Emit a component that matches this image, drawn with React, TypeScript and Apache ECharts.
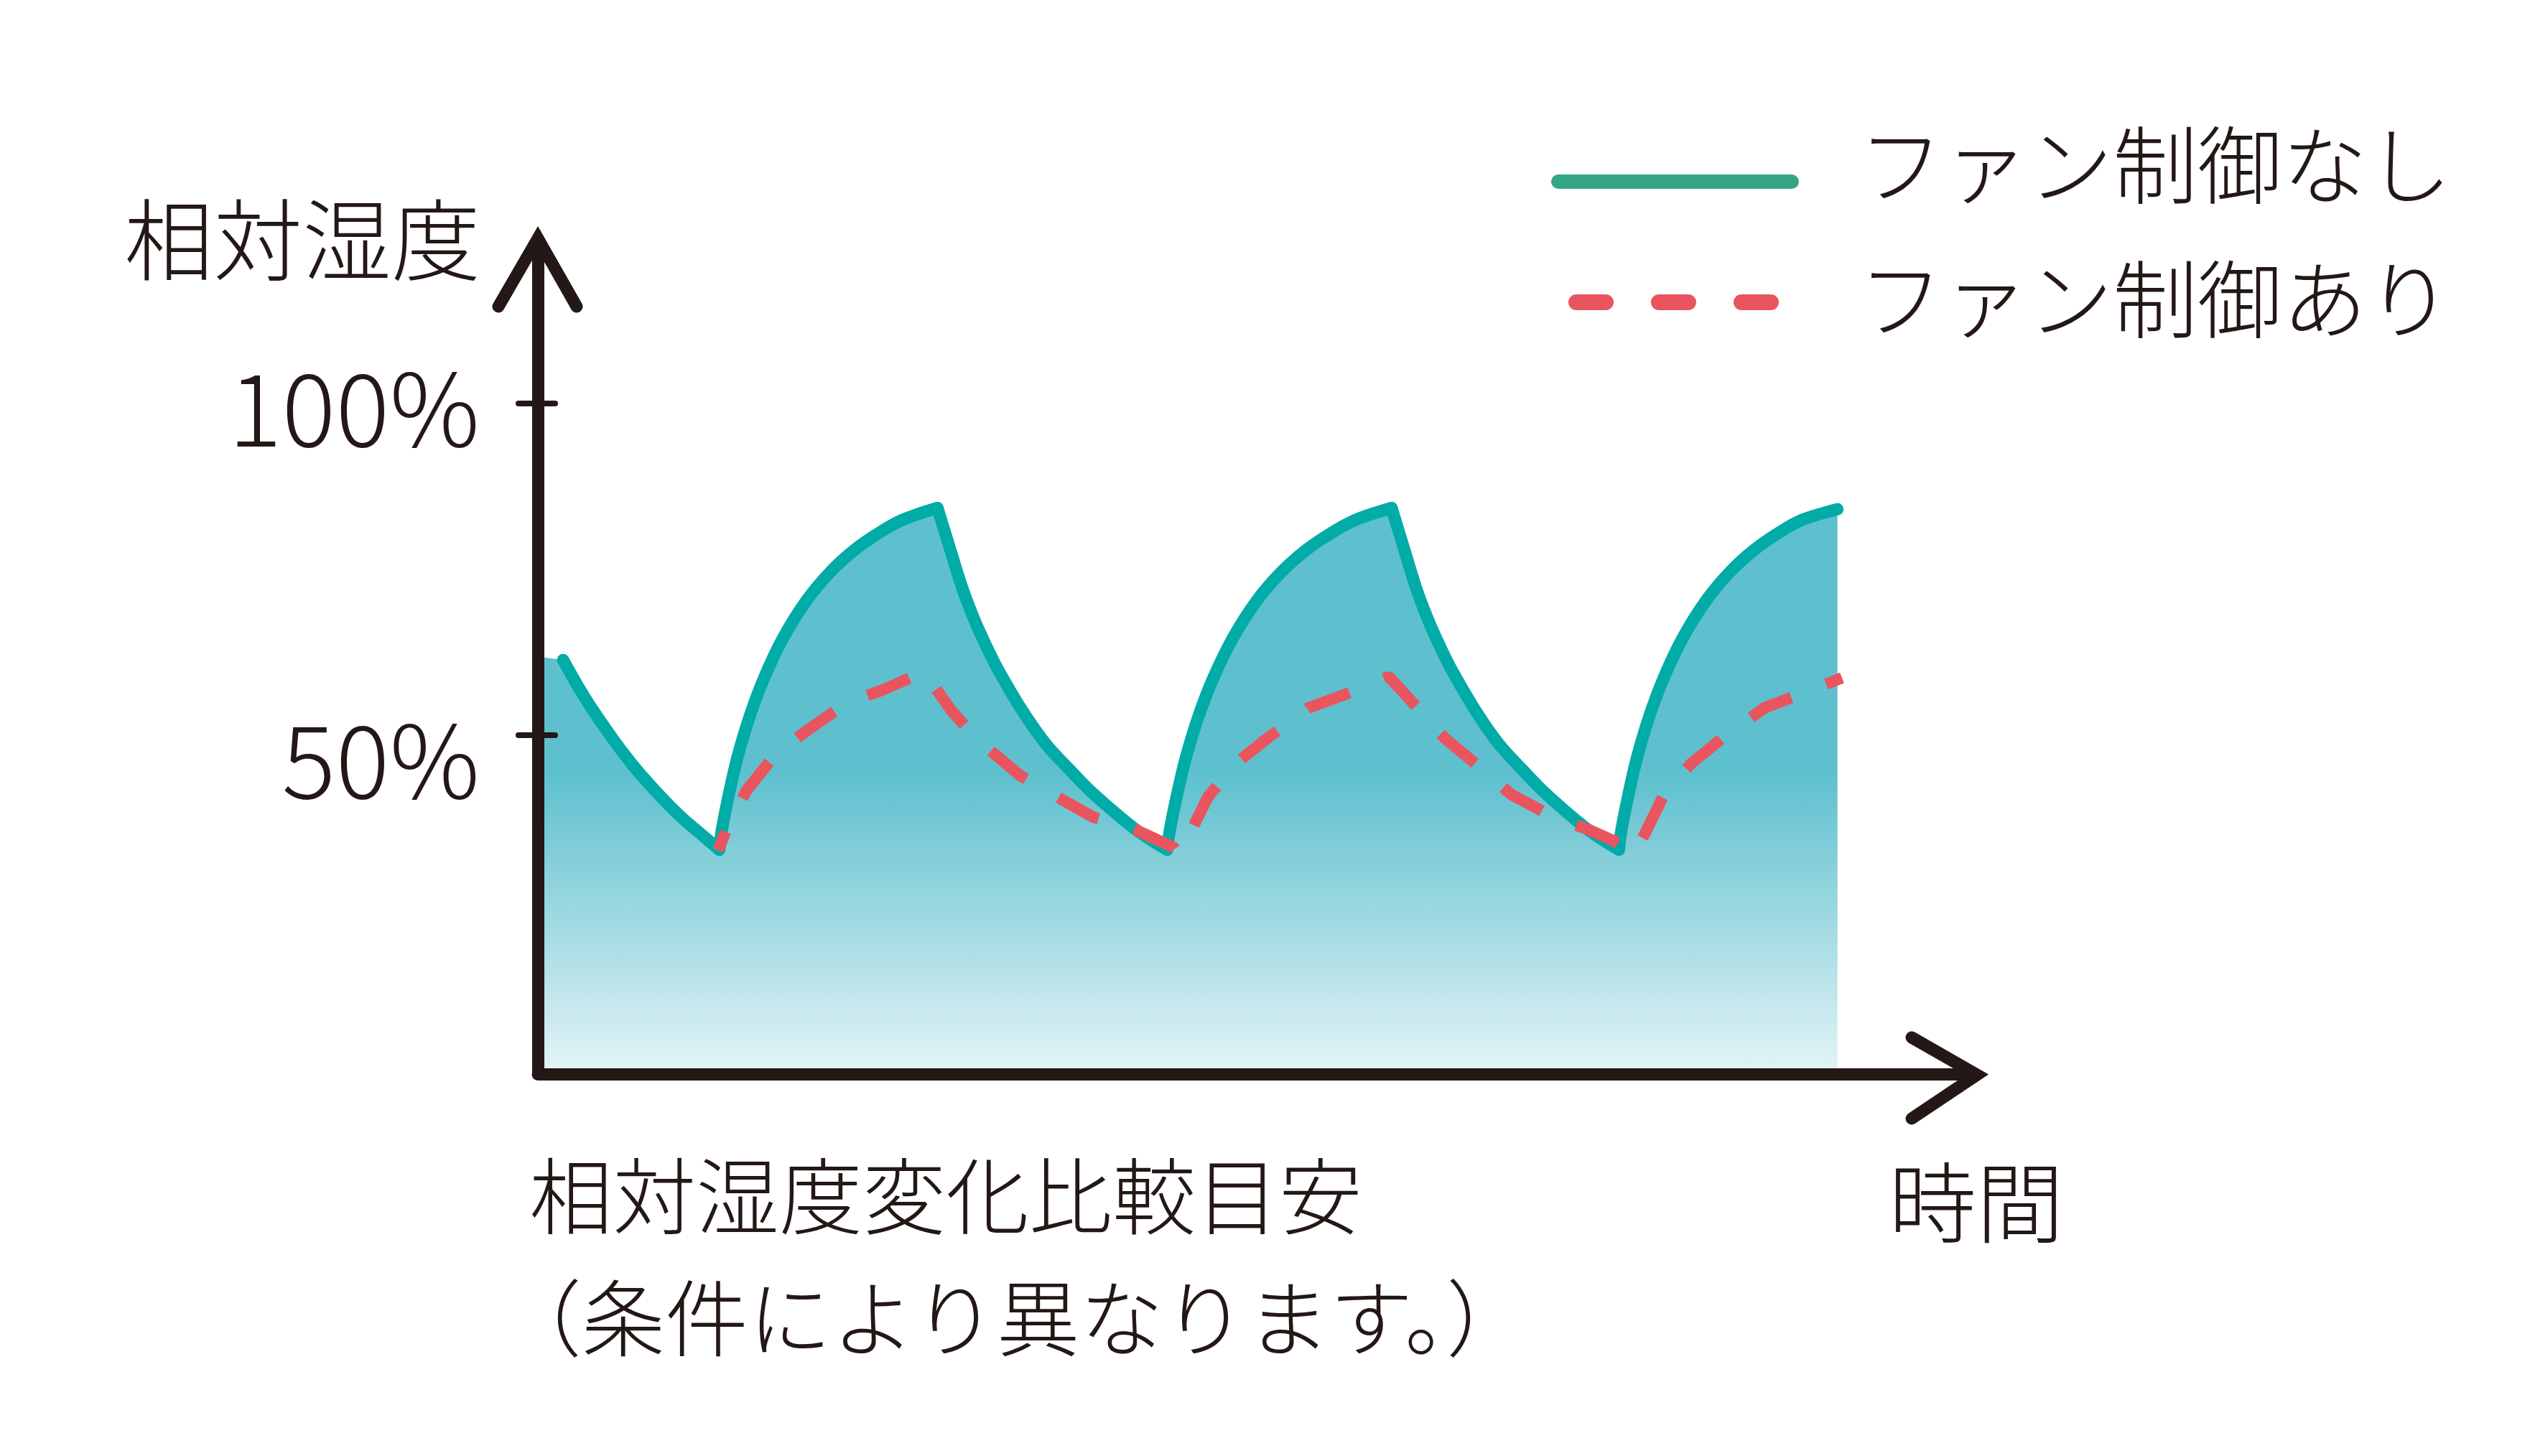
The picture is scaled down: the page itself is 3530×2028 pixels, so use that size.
import React, { useEffect, useRef } from 'react';
import * as echarts from 'echarts';

// time runs 0..99 along the x axis (arbitrary units), humidity in %
const noFanTime = [
  1.74, 3.19, 4.85, 6.5, 8.15, 9.81, 11.46, 12.53,
  12.7, 13.19, 13.77, 14.6, 15.59, 16.91, 18.57, 20.22, 21.88, 23.53, 25.18, 27.6,
  28.49, 29.32, 30.14, 30.97, 31.8, 33.45, 35.1, 36.76, 38.44, 41.27, 43.47,
  43.65, 44.15, 44.75, 45.6, 46.62, 47.98, 49.68, 51.38, 53.09, 54.78, 56.48, 58.97,
  59.85, 60.67, 61.48, 62.3, 63.12, 64.76, 66.39, 68.03, 69.69, 72.49, 74.67,
  74.84, 75.33, 75.91, 76.74, 77.73, 79.05, 80.71, 82.36, 84.02, 85.67, 87.32, 89.77,
];
const noFanHumidity = [
  61.3, 55.8, 50.4, 45.6, 41.5, 37.8, 34.7, 32.7,
  35.6, 41.0, 46.5, 52.6, 58.4, 64.5, 70.3, 74.6, 77.9, 80.4, 82.4, 84.2,
  77.9, 72.1, 67.4, 63.4, 59.8, 53.7, 48.6, 44.7, 41.0, 35.8, 32.7,
  35.6, 41.0, 46.5, 52.6, 58.4, 64.5, 70.3, 74.6, 77.9, 80.4, 82.4, 84.2,
  77.9, 72.1, 67.4, 63.4, 59.8, 53.7, 48.6, 44.7, 41.0, 35.8, 32.7,
  35.6, 41.0, 46.5, 52.6, 58.4, 64.5, 70.3, 74.6, 77.9, 80.4, 82.4, 84.0,
];

const fanTime = [
  12.45, 13.08, 14.4, 16.28, 18.42, 21.38, 23.73, 26.67,
  28.59, 30.32, 33.3, 35.43, 38.37, 41.22, 43.95, 44.2,
  45.02, 46.3, 48.2, 50.33, 53.25, 55.64, 58.78,
  60.91, 62.65, 65.18, 67.25, 70.09, 72.61, 75.6, 75.74,
  76.46, 77.69, 79.66, 81.75, 84.74, 87.06, 90.08,
];
const fanHumidity = [
  32.6, 36.0, 41.6, 46.7, 50.4, 54.9, 56.7, 59.5,
  53.6, 49.4, 43.9, 41.2, 37.6, 35.8, 33.0, 32.2,
  35.1, 40.7, 45.7, 49.4, 54.1, 56.0, 58.8,
  53.7, 49.5, 44.9, 41.0, 37.7, 35.7, 32.8, 32.2,
  35.1, 40.6, 45.7, 49.4, 54.1, 56.0, 58.6,
];

// the shaded area begins at the y axis
const areaStartHumidity = 61.8;

const yTickValues = [50, 100];
const yTickLabels = ['50%', '100%'];

const seriesNames = ['ファン制御なし', 'ファン制御あり'];
const yAxisTitle = '相対湿度';
const xAxisTitle = '時間';
const noteLines = ['相対湿度変化比較目安', '（条件により異なります。）'];

const FONT = '"Noto Sans CJK JP", "Noto Sans", sans-serif';
const INK = '#231815';
const GREEN = '#00ABA8';
const RED = '#E9555F';

const Y_MIN = -1.1;
const Y_MAX = 124.5;

// cut a curve into rising / falling pieces so each piece can be smoothed
// while the peaks and troughs stay sharp
const splitAtTurns = (pts: number[][]) => {
  const pieces: number[][][] = [];
  let cur = [pts[0]];
  for (let i = 1; i < pts.length; i++) {
    cur.push(pts[i]);
    const next = pts[i + 1];
    if (next) {
      const d1 = pts[i][1] - pts[i - 1][1];
      const d2 = next[1] - pts[i][1];
      if (d1 * d2 < 0) {
        pieces.push(cur);
        cur = [pts[i]];
      }
    }
  }
  pieces.push(cur);
  return pieces;
};

const App: React.FC = () => {
  const chartRef = useRef<HTMLDivElement>(null);

  useEffect(() => {
    if (!chartRef.current) return;
    const chart = echarts.init(chartRef.current, undefined, { renderer: 'svg' });

    const noFanData = noFanTime.map((t, i) => [t, noFanHumidity[i]]);
    const fanData = fanTime.map((t, i) => [t, fanHumidity[i]]);
    const areaData = [[0, areaStartHumidity], ...noFanData];

    const tickLabel = (v: number) => {
      const i = yTickValues.indexOf(v);
      return i < 0 ? '' : yTickLabels[i];
    };

    const labelStyle = {
      fontSize: 140,
      fontFamily: FONT,
      fontWeight: 300,
      color: INK,
    };

    const bareAxis = {
      type: 'value',
      position: 'left',
      offset: 0,
      min: Y_MIN,
      max: Y_MAX,
      z: 10,
      axisLine: { show: false },
      axisTick: { show: false },
      axisLabel: { show: false },
      splitLine: { show: false },
    };

    const textStyle = (text: string, fontSize: number) => ({
      text,
      fontSize,
      fontFamily: FONT,
      fontWeight: 300,
      fill: INK,
      align: 'left',
      verticalAlign: 'middle',
    });

    const noFanPieces = splitAtTurns(noFanData).map((piece) => ({
      name: seriesNames[0],
      type: 'line',
      data: piece,
      symbol: 'none',
      smooth: 0.35,
      z: 3,
      lineStyle: { color: GREEN, width: 17, cap: 'round', join: 'round' },
    }));

    const options = {
      animation: false,
      grid: { left: 749, top: 335, width: 1995.8, height: 1161, containLabel: false },
      xAxis: {
        type: 'value',
        min: 0,
        max: 99,
        z: 10,
        axisLine: { show: true, onZero: false, lineStyle: { color: INK, width: 17 } },
        axisTick: { show: false },
        axisLabel: { show: false },
        splitLine: { show: false },
      },
      yAxis: [
        {
          ...bareAxis,
          axisLine: { show: true, onZero: false, lineStyle: { color: INK, width: 17 } },
          axisTick: {
            show: true,
            customValues: yTickValues,
            length: 27,
            lineStyle: { color: INK, width: 8, cap: 'round' },
          },
          axisLabel: {
            show: true,
            customValues: [yTickValues[1]],
            margin: 81,
            formatter: tickLabel,
            ...labelStyle,
          },
        },
        {
          ...bareAxis,
          axisTick: {
            show: true,
            inside: true,
            customValues: yTickValues,
            length: 24,
            lineStyle: { color: INK, width: 8, cap: 'round' },
          },
        },
        {
          // the 50% label sits a little below its tick
          ...bareAxis,
          axisLabel: {
            show: true,
            customValues: [yTickValues[0]],
            margin: 81,
            formatter: tickLabel,
            verticalAlign: 'top',
            lineHeight: 54,
            ...labelStyle,
          },
        },
      ],
      series: [
        {
          name: 'area',
          type: 'line',
          data: areaData,
          symbol: 'none',
          silent: true,
          z: 1,
          lineStyle: { width: 0 },
          areaStyle: {
            origin: 'start',
            opacity: 1,
            color: new echarts.graphic.LinearGradient(0, 0, 0, 1, [
              { offset: 0, color: '#5EC0CE' },
              { offset: 0.47, color: '#5EC0CE' },
              { offset: 1, color: '#E4F4F7' },
            ]),
          },
        },
        ...noFanPieces,
        {
          name: seriesNames[1],
          type: 'line',
          data: fanData,
          symbol: 'none',
          z: 4,
          lineStyle: {
            color: RED,
            width: 16,
            type: [63, 52],
            dashOffset: 35,
            cap: 'butt',
          },
        },
      ],
      graphic: [
        // axis arrow heads
        {
          type: 'polyline',
          z: 100,
          shape: { points: [[694, 427], [749, 332], [803, 427]] },
          style: { stroke: INK, lineWidth: 17, lineCap: 'round', lineJoin: 'miter' },
        },
        {
          type: 'polyline',
          z: 100,
          shape: { points: [[2662, 1445], [2753, 1497], [2662, 1558]] },
          style: { stroke: INK, lineWidth: 17, lineCap: 'round', lineJoin: 'miter' },
        },
        // legend
        {
          type: 'line',
          z: 100,
          shape: { x1: 2170, y1: 253, x2: 2495, y2: 253 },
          style: { stroke: '#34A586', lineWidth: 20, lineCap: 'round' },
        },
        {
          type: 'line',
          z: 100,
          shape: { x1: 2195, y1: 421, x2: 2467, y2: 421 },
          style: { stroke: RED, lineWidth: 22, lineCap: 'round', lineDash: [41, 74] },
        },
        { type: 'text', z: 100, x: 2588, y: 223, style: textStyle(seriesNames[0], 118) },
        { type: 'text', z: 100, x: 2588, y: 410, style: textStyle(seriesNames[1], 118) },
        // axis titles
        { type: 'text', z: 100, x: 173, y: 327, style: textStyle(yAxisTitle, 124) },
        { type: 'text', z: 100, x: 2630, y: 1667, style: textStyle(xAxisTitle, 122) },
        // note under the chart
        { type: 'text', z: 100, x: 737, y: 1659, style: textStyle(noteLines[0], 116) },
        { type: 'text', z: 100, x: 694, y: 1829, style: textStyle(noteLines[1], 116) },
      ],
    };

    chart.setOption(options);

    return () => {
      chart.dispose();
    };
  }, []);

  return (
    <div
      ref={chartRef}
      style={{ position: 'absolute', left: 0, top: 0, width: '3530px', height: '2028px', background: '#fff' }}
    />
  );
};

export default App;
